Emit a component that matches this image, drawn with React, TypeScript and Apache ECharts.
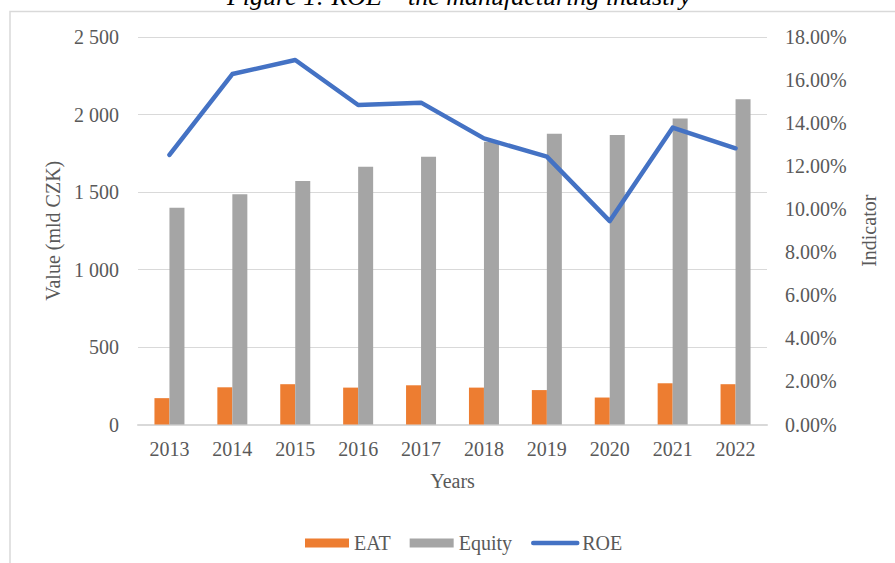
import React, { useEffect, useRef } from "react";
import * as echarts from "echarts";

const years = ["2013", "2014", "2015", "2016", "2017", "2018", "2019", "2020", "2021", "2022"];
const eat = [170, 240, 260, 238, 253, 238, 222, 174, 266, 260];
const equity = [1399, 1485, 1571, 1663, 1728, 1825, 1876, 1868, 1975, 2098];
const roe = [12.52, 16.28, 16.93, 14.84, 14.95, 13.29, 12.44, 9.45, 13.79, 12.83];

const titleText = "Figure 1: ROE \u2013 the manufacturing industry";
const FONT = "'Liberation Serif', 'Times New Roman', serif";
const TXT = "#595959";

function fmtThousands(v: number): string {
  if (v >= 1000) {
    const th = Math.floor(v / 1000);
    const rest = String(v % 1000).padStart(3, "0");
    return th + " " + rest;
  }
  return String(v);
}

export default function App() {
  const ref = useRef<HTMLDivElement>(null);
  useEffect(() => {
    if (!ref.current) return;
    const chart = echarts.init(ref.current, undefined, { renderer: "svg" });
    chart.setOption({
      animation: false,
      backgroundColor: "#ffffff",
      textStyle: { fontFamily: FONT, color: TXT },
      graphic: [
        {
          type: "rect",
          shape: { x: 10, y: 11.5, width: 1000, height: 1000 },
          style: { fill: "none", stroke: "#d9d9d9", lineWidth: 1.5 },
          silent: true,
        },
        {
          type: "text",
          x: 459,
          y: -4,
          style: {
            text: titleText,
            font: `italic 26px ${FONT}`,
            fill: "#000000",
            align: "center",
            verticalAlign: "middle",
          },
          silent: true,
        },
      ],
      grid: { left: 138, right: 128, top: 37, bottom: 138.5, containLabel: false },
      legend: {
        left: 300,
        top: 528,
        itemWidth: 44,
        itemHeight: 9,
        itemGap: 19,
        textStyle: { fontSize: 20, color: TXT, fontFamily: FONT },
        data: [
          { name: "EAT", icon: "rect" },
          { name: "Equity", icon: "rect" },
          {
            name: "ROE",
            itemStyle: { opacity: 0, color: "transparent", borderWidth: 0 },
            lineStyle: { color: "#4472C4", width: 4.5, cap: "round" },
          },
        ],
      },
      xAxis: {
        type: "category",
        data: years,
        boundaryGap: true,
        name: "Years",
        nameLocation: "middle",
        nameGap: 46,
        nameTextStyle: { fontSize: 20, color: TXT, fontFamily: FONT },
        axisLine: { show: true, lineStyle: { color: "#d9d9d9", width: 2 } },
        axisTick: { show: false },
        axisLabel: { fontSize: 20, color: TXT, fontFamily: FONT, margin: 14 },
      },
      yAxis: [
        {
          type: "value",
          min: 0,
          max: 2500,
          interval: 500,
          name: "Value (mld CZK)",
          nameLocation: "middle",
          nameGap: 72,
          nameTextStyle: { fontSize: 20, color: TXT, fontFamily: FONT },
          axisLine: { show: false },
          axisTick: { show: false },
          axisLabel: { fontSize: 20, color: TXT, fontFamily: FONT, margin: 19, formatter: (v: number) => fmtThousands(v) },
          splitLine: { show: true, lineStyle: { color: "#d9d9d9", width: 1 } },
        },
        {
          type: "value",
          min: 0,
          max: 18,
          interval: 2,
          name: "Indicator",
          nameLocation: "middle",
          nameGap: 92,
          nameTextStyle: { fontSize: 20, color: TXT, fontFamily: FONT },
          axisLine: { show: false },
          axisTick: { show: false },
          axisLabel: { fontSize: 20, color: TXT, fontFamily: FONT, margin: 18, formatter: (v: number) => v.toFixed(2) + "%" },
          splitLine: { show: false },
        },
      ],
      series: [
        {
          name: "EAT",
          type: "bar",
          data: eat,
          barWidth: 15,
          barGap: "0%",
          itemStyle: { color: "#ED7D31" },
        },
        {
          name: "Equity",
          type: "bar",
          data: equity,
          barWidth: 15,
          barGap: "0%",
          itemStyle: { color: "#A5A5A5" },
        },
        {
          name: "ROE",
          type: "line",
          yAxisIndex: 1,
          data: roe,
          symbol: "none",
          showSymbol: false,
          lineStyle: { color: "#4472C4", width: 4.5, cap: "round", join: "round" },
          itemStyle: { color: "#4472C4" },
          z: 5,
        },
      ],
    });
    return () => chart.dispose();
  }, []);
  return (
    <div
      ref={ref}
      style={{ position: "fixed", left: 0, top: 0, width: 895, height: 563 }}
    />
  );
}
